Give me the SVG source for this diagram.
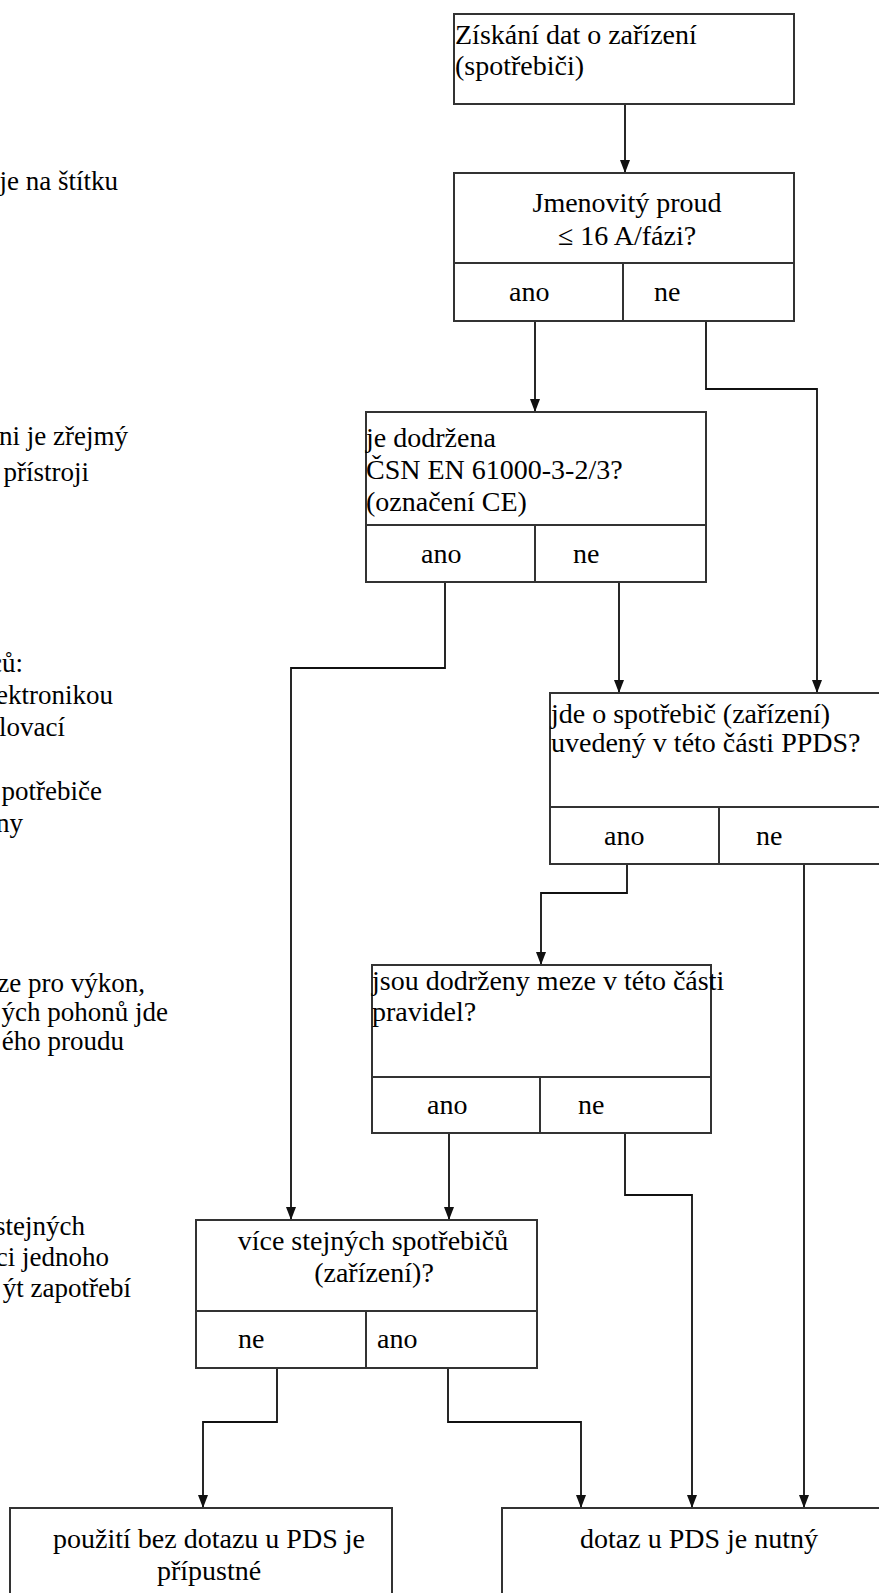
<svg xmlns="http://www.w3.org/2000/svg" width="879" height="1593" viewBox="0 0 879 1593">
<style>
text{font-family:"Liberation Serif","Times New Roman",serif;fill:#000}
.t{font-size:28px}
.side{font-size:27px}
.c{text-anchor:middle}
.e{text-anchor:end}
.box{fill:#fff;stroke:#333;stroke-width:2}
.div{fill:none;stroke:#333;stroke-width:2}
.con{fill:none;stroke:#111;stroke-width:1.8}
</style>
<defs>
<marker id="ah" markerUnits="userSpaceOnUse" markerWidth="13" markerHeight="10" refX="13" refY="5" orient="auto" viewBox="0 0 13 10">
<path d="M0,0 L13,5 L0,10 Z" fill="#111"/>
</marker>
</defs>

<g id="side-notes">
<text class="side e" x="118" y="190">je na štítku</text>
<text class="side e" x="128" y="445">ni je zřejmý</text>
<text class="side e" x="89" y="481">přístroji</text>
<text class="side e" x="23" y="672">ců:</text>
<text class="side e" x="113" y="704">ektronikou</text>
<text class="side e" x="65" y="736">lovací</text>
<text class="side e" x="102" y="800">potřebiče</text>
<text class="side e" x="23" y="832">ny</text>
<text class="side e" x="145" y="992">ze pro výkon,</text>
<text class="side e" x="168" y="1021">ých pohonů jde</text>
<text class="side e" x="124" y="1050">ého proudu</text>
<text class="side e" x="85" y="1235">stejných</text>
<text class="side e" x="109" y="1266">ci jednoho</text>
<text class="side e" x="131" y="1297">ýt zapotřebí</text>
</g>

<g id="connectors">
<path class="con" d="M625,104 V173" marker-end="url(#ah)"/>
<path class="con" d="M535,321 V412" marker-end="url(#ah)"/>
<path class="con" d="M706,321 V389 H817 V693" marker-end="url(#ah)"/>
<path class="con" d="M445,582 V668 H291 V1220" marker-end="url(#ah)"/>
<path class="con" d="M619,582 V693" marker-end="url(#ah)"/>
<path class="con" d="M627,864 V893 H541 V965" marker-end="url(#ah)"/>
<path class="con" d="M804,864 V1508" marker-end="url(#ah)"/>
<path class="con" d="M449,1133 V1220" marker-end="url(#ah)"/>
<path class="con" d="M625,1133 V1195 H692 V1508" marker-end="url(#ah)"/>
<path class="con" d="M277,1368 V1422 H203 V1508" marker-end="url(#ah)"/>
<path class="con" d="M448,1368 V1422 H581 V1508" marker-end="url(#ah)"/>
</g>

<g id="n1">
<rect class="box" x="454" y="14" width="340" height="90"/>
<text class="t" x="455" y="44">Získání dat o zařízení</text>
<text class="t" x="455" y="75">(spotřebiči)</text>
</g>

<g id="n2">
<rect class="box" x="454" y="173" width="340" height="148"/>
<path class="div" d="M454,263 H794 M623,263 V321"/>
<text class="t c" x="627" y="212">Jmenovitý proud</text>
<text class="t c" x="627" y="245">≤ 16 A/fázi?</text>
<text class="t" x="509" y="301">ano</text>
<text class="t" x="654" y="301">ne</text>
</g>

<g id="n3">
<rect class="box" x="366" y="412" width="340" height="170"/>
<path class="div" d="M366,525 H706 M535,525 V582"/>
<text class="t" x="366" y="447">je dodržena</text>
<text class="t" x="366" y="479">ČSN EN 61000-3-2/3?</text>
<text class="t" x="366" y="511">(označení CE)</text>
<text class="t" x="421" y="563">ano</text>
<text class="t" x="573" y="563">ne</text>
</g>

<g id="n4">
<rect class="box" x="550" y="693" width="340" height="171"/>
<path class="div" d="M550,807 H890 M719,807 V864"/>
<text class="t" x="551" y="723">jde o spotřebič (zařízení)</text>
<text class="t" x="551" y="752">uvedený v této části PPDS?</text>
<text class="t" x="604" y="845">ano</text>
<text class="t" x="756" y="845">ne</text>
</g>

<g id="n5">
<rect class="box" x="372" y="965" width="339" height="168"/>
<path class="div" d="M372,1077 H711 M540,1077 V1133"/>
<text class="t" x="372" y="990">jsou dodrženy meze v této části</text>
<text class="t" x="372" y="1021">pravidel?</text>
<text class="t" x="427" y="1114">ano</text>
<text class="t" x="578" y="1114">ne</text>
</g>

<g id="n6">
<rect class="box" x="196" y="1220" width="341" height="148"/>
<path class="div" d="M196,1311 H537 M366,1311 V1368"/>
<text class="t c" x="373" y="1250">více stejných spotřebičů</text>
<text class="t c" x="374" y="1282">(zařízení)?</text>
<text class="t" x="238" y="1348">ne</text>
<text class="t" x="377" y="1348">ano</text>
</g>

<g id="n7">
<rect class="box" x="10" y="1508" width="382" height="100"/>
<text class="t c" x="209" y="1548">použití bez dotazu u PDS je</text>
<text class="t c" x="209" y="1580">přípustné</text>
</g>

<g id="n8">
<rect class="box" x="502" y="1508" width="390" height="100"/>
<text class="t c" x="699" y="1548">dotaz u PDS je nutný</text>
</g>
</svg>
